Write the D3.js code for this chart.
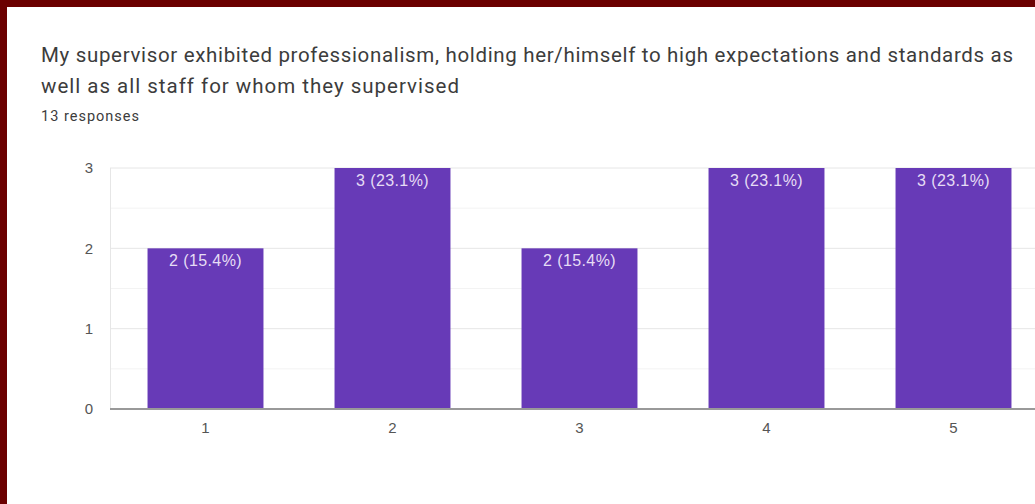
<!DOCTYPE html>
<html>
<head>
<meta charset="utf-8">
<script src="https://cdn.jsdelivr.net/npm/d3@7"></script>
<style>
  html, body { margin: 0; padding: 0; background: #fff; }
  svg { display: block; }
</style>
</head>
<body>
<svg id="chart" width="1035" height="504"></svg>
<script>
// Survey answer scale and response counts
const categories = ["1", "2", "3", "4", "5"];
const counts = [2, 3, 2, 3, 3];
const totalResponses = 13;
const yTicks = [0, 1, 2, 3];

const titleLines = [
  "My supervisor exhibited professionalism, holding her/himself to high expectations and standards as",
  "well as all staff for whom they supervised"
];
const titleWidths = [972, 418];
const subtitle = totalResponses + " responses";

const svg = d3.select("#chart");
const W = 1035, H = 504;
const chartFont = "'Liberation Sans', Arial, sans-serif";

// card frame
svg.append("rect").attr("x", 0).attr("y", 0).attr("width", W).attr("height", H).attr("fill", "#fff");
svg.append("rect").attr("x", 0).attr("y", 0).attr("width", W).attr("height", 7).attr("fill", "#6b0000");
svg.append("rect").attr("x", 0).attr("y", 0).attr("width", 7).attr("height", H).attr("fill", "#6b0000");

// heading
svg.append("g").selectAll("text").data(titleLines).join("text")
  .attr("x", 41).attr("y", (d, i) => 62 + i * 31)
  .attr("font-family", "Roboto, sans-serif").attr("font-size", 20.5)
  .attr("textLength", (d, i) => titleWidths[i]).attr("lengthAdjust", "spacing")
  .attr("fill", "#3c3c3c").text(d => d);
svg.append("text").attr("x", 41).attr("y", 121)
  .attr("font-family", "Roboto, sans-serif").attr("font-size", 14.5)
  .attr("textLength", 98).attr("lengthAdjust", "spacing")
  .attr("fill", "#3c3c3c").text(subtitle);

const x = d3.scaleBand().domain(categories).range([112, 1047]).paddingInner(0.38).paddingOuter(0.19);
const y = d3.scaleLinear().domain([0, 3]).range([409, 168]);

// gridlines every half unit
const gridVals = d3.range(0.5, 3.01, 0.5);
svg.append("g").selectAll("line").data(gridVals).join("line")
  .attr("x1", 110).attr("x2", W).attr("y1", d => y(d)).attr("y2", d => y(d))
  .attr("stroke", d => Number.isInteger(d) ? "#e6e6e6" : "#f3f3f3").attr("stroke-width", 1);
svg.append("line").attr("x1", 110.5).attr("x2", 110.5).attr("y1", y(3)).attr("y2", y(0))
  .attr("stroke", "#e6e6e6");

// y axis labels
const yAxis = d3.axisLeft(y).tickValues(yTicks).tickSize(0).tickPadding(0).tickFormat(d3.format("d"));
const yg = svg.append("g").attr("transform", "translate(93,0)").call(yAxis);
yg.select(".domain").remove();
yg.selectAll("text").attr("font-family", chartFont).attr("font-size", 15).attr("fill", "#555");

// bars
const data = categories.map((c, i) => ({ c, v: counts[i] }));
svg.append("g").selectAll("rect").data(data).join("rect")
  .attr("x", d => x(d.c)).attr("width", x.bandwidth())
  .attr("y", d => y(d.v)).attr("height", d => y(0) - y(d.v))
  .attr("fill", "#673ab7");

// value labels inside bar tops
const pct = d3.format(".1f");
svg.append("g").selectAll("text").data(data).join("text")
  .attr("x", d => x(d.c) + x.bandwidth() / 2).attr("y", d => y(d.v) + 18)
  .attr("text-anchor", "middle")
  .attr("font-family", chartFont).attr("font-size", 16)
  .attr("letter-spacing", 0.4)
  .attr("fill", "#e6ddf5")
  .text(d => d.v + " (" + pct(d.v / totalResponses * 100) + "%)");

// baseline
svg.append("line").attr("x1", 110).attr("x2", W).attr("y1", y(0)).attr("y2", y(0))
  .attr("stroke", "#999").attr("stroke-width", 2);

// x axis labels
const xAxis = d3.axisBottom(x).tickSize(0).tickPadding(0);
const xg = svg.append("g").attr("transform", "translate(0," + (y(0) + 24) + ")").call(xAxis);
xg.select(".domain").remove();
xg.selectAll("text").attr("dy", 0).attr("font-family", chartFont).attr("font-size", 15).attr("fill", "#555");
</script>
</body>
</html>
